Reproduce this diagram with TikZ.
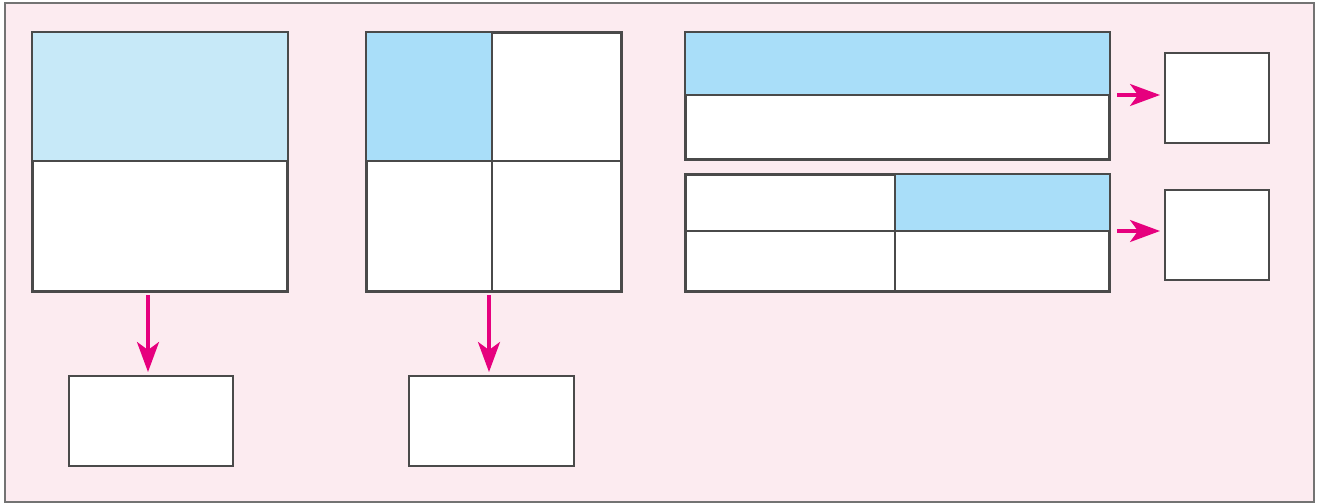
\documentclass[tikz,border=0pt]{standalone}
\usetikzlibrary{arrows.meta}
\definecolor{bgpink}{HTML}{FCEBF0}
\definecolor{lightblue}{HTML}{C7E9F8}
\definecolor{midblue}{HTML}{A9DEF9}
\definecolor{magenta}{HTML}{E6007E}
\definecolor{edge}{HTML}{4A4A4A}
\begin{document}
\begin{tikzpicture}[x=0.5pt,y=-0.5pt,
  box/.style={draw=edge, line width=1pt, fill=white, rectangle, inner sep=0pt},
  divider/.style={draw=edge, line width=1pt},
  flow/.style={draw=magenta, line width=1.6pt, -{Stealth[length=15pt,width=11pt,inset=4pt]}},
  frame/.style={draw=black!55, line width=1pt, fill=bgpink}]
\useasboundingbox (0,0) rectangle (1325,503);
\node[frame, minimum width=654.5pt, minimum height=249.5pt, anchor=north west] (outer) at (4,2) {};
% Box A
\node[box, minimum width=127pt, minimum height=129pt, anchor=north west] (a) at (32,32) {};
\coordinate (amid) at (32,161);
\fill[lightblue] (a.north west) rectangle (a.east |- amid);
\draw[divider] (a.north west) rectangle (a.south east);
\draw[divider] (amid) -- (a.east |- amid);
% Box B
\node[box, minimum width=127pt, minimum height=129pt, anchor=north west] (b) at (366,32) {};
\coordinate (bmid) at (492,161);
\fill[midblue] (b.north west) rectangle (bmid);
\draw[divider] (b.north west) rectangle (b.south east);
\draw[divider] (b.west |- bmid) -- (b.east |- bmid);
\draw[divider] (b.north -| bmid) -- (b.south -| bmid);
% Box C
\node[box, minimum width=211.5pt, minimum height=63pt, anchor=north west] (c) at (685,32) {};
\coordinate (cmid) at (685,95);
\fill[midblue] (c.north west) rectangle (c.east |- cmid);
\draw[divider] (c.north west) rectangle (c.south east);
\draw[divider] (cmid) -- (c.east |- cmid);
% Box D
\node[box, minimum width=211.5pt, minimum height=58pt, anchor=north west] (d) at (685,174) {};
\coordinate (dmid) at (895,231);
\fill[midblue] (d.north -| dmid) rectangle (d.east |- dmid);
\draw[divider] (d.north west) rectangle (d.south east);
\draw[divider] (d.west |- dmid) -- (d.east |- dmid);
\draw[divider] (d.north -| dmid) -- (d.south -| dmid);
% Result boxes
\node[box, minimum width=82pt, minimum height=45pt, anchor=north west] (e) at (68,375) {};
\node[box, minimum width=82.5pt, minimum height=45pt, anchor=north west] (f) at (408,375) {};
\node[box, minimum width=52pt, minimum height=45pt, anchor=north west] (g) at (1164,52) {};
\node[box, minimum width=52pt, minimum height=45pt, anchor=north west] (h) at (1164,189) {};
% Arrows
\coordinate (ea) at (148,295);
\coordinate (eb) at (148,372);
\coordinate (fa) at (489,295);
\coordinate (fb) at (489,372);
\draw[flow] (ea) -- (eb);
\draw[flow] (fa) -- (fb);
\draw[flow] ([xshift=3.5pt]c.east |- cmid) -- ([xshift=-2pt]g.west |- cmid);
\draw[flow] ([xshift=3.5pt]d.east |- dmid) -- ([xshift=-2pt]h.west |- dmid);
\end{tikzpicture}
\end{document}
